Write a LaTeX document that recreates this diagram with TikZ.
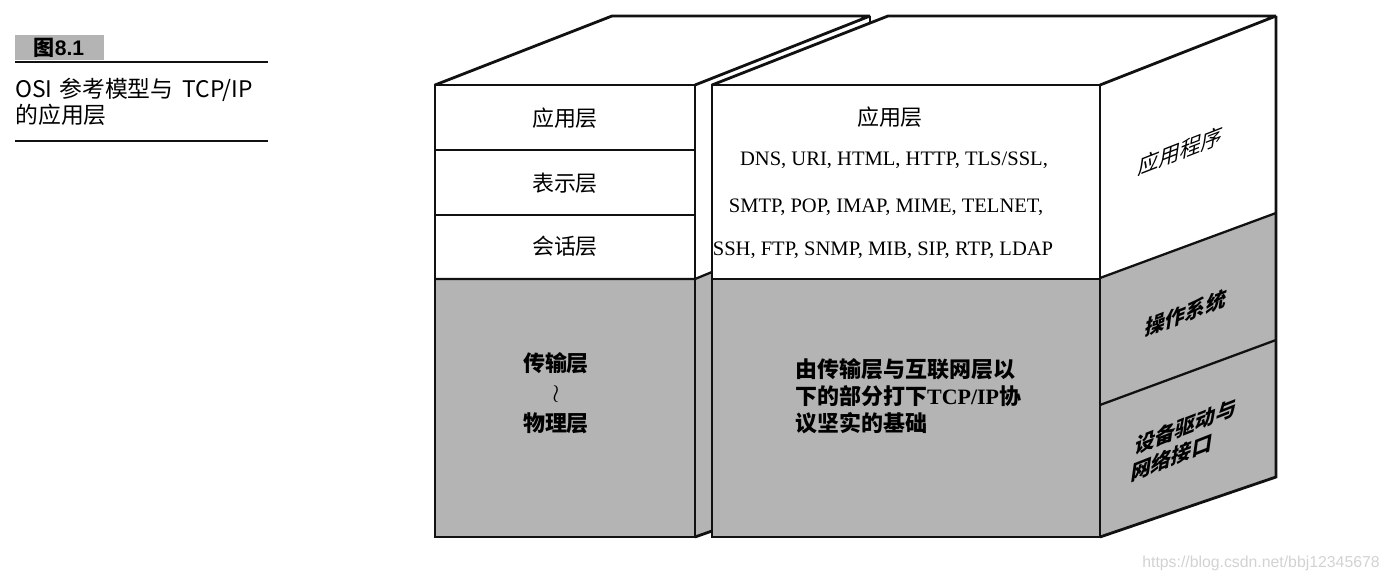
\documentclass[tikz,border=0pt]{standalone}
\usepackage{fontspec}
\setmainfont{Liberation Serif}
\setsansfont{Liberation Sans}
\newfontfamily\cjk{Noto Sans CJK SC}
\usepackage{xcolor}
\definecolor{cEdge}{HTML}{111111}
\definecolor{cShade}{HTML}{B4B4B4}
\definecolor{cMark}{HTML}{D2D2D2}
\usetikzlibrary{calc}
\tikzset{
  box-edge/.style={draw=cEdge,line width=1.6pt,line join=miter,miter limit=2},
  layer-line/.style={draw=cEdge,line width=1.3pt},
  layer-shade/.style={fill=cShade},
  cap-rule/.style={draw=cEdge,line width=1.1pt},
  cap-text/.style={inner sep=0pt,anchor=west,font=\cjk\fontsize{13}{15}\selectfont},
  lbl-layer/.style={inner sep=0pt,font=\cjk\fontsize{12.5}{15}\selectfont},
  lbl-low/.style={inner sep=0pt,font=\cjk\bfseries\fontsize{12.5}{15}\selectfont},
  lbl-proto/.style={inner sep=0pt,font=\fontsize{11.7}{14}\selectfont},
  lbl-base/.style={inner sep=0pt,align=left,anchor=north west,
    font=\cjk\bfseries\fontsize{12.5}{15.4}\selectfont},
  lbl-side/.style={inner sep=0pt,align=left,yslant=0.39,xslant=0.15,
    font=\cjk\fontsize{12}{14.5}\selectfont},
  lbl-side-low/.style={lbl-side,font=\cjk\bfseries\fontsize{11.5}{14.5}\selectfont},
  lbl-mark/.style={inner sep=0pt,text=cMark,font=\sffamily\fontsize{9}{11}\selectfont},
}

\begin{document}
\begin{tikzpicture}[x=0.02cm,y=-0.02cm]
  \useasboundingbox (0,0) rectangle (1389,581);

  % caption at the left
  \fill[cShade] (15,35) rectangle (104,60);
  \node[inner sep=0pt,font=\sffamily\bfseries\fontsize{12}{14}\selectfont] (tag) at (59,48) {{\cjk 图}8.1};
  \draw[cap-rule] (15,62) -- (268,62);
  \node[cap-text] (title-a) at (15,90) {OSI\hspace{0.3em}参考模型与\hspace{0.4em}TCP/IP};
  \node[cap-text] (title-b) at (15,115) {的应用层};
  \draw[cap-rule] (15,141) -- (268,141);

  % shaded lower layers
  \fill[layer-shade] (435,279) rectangle (695,537);
  \fill[layer-shade] (695,279) -- (712,272) -- (712,531) -- (695,537) -- cycle;
  \fill[layer-shade] (712,279) rectangle (1100,537);
  \fill[layer-shade] (1100,278) -- (1276,213) -- (1276,477) -- (1100,537) -- cycle;

  % OSI block
  \draw[box-edge] (435,85) rectangle (695,537);
  \draw[box-edge] (435,85) -- (612,16) -- (870,16) -- (695,85);
  \draw[box-edge] (870,16) -- (870,23);
  \draw[box-edge] (695,537) -- (712,531);
  \draw[layer-line] (435,150) -- (695,150);
  \draw[layer-line] (435,215) -- (695,215);
  \draw[layer-line] (435,279) -- (695,279) -- (712,272);

  % TCP/IP block
  \draw[box-edge] (712,85) rectangle (1100,537);
  \draw[box-edge] (712,85) -- (888,16) -- (1276,16) -- (1100,85);
  \draw[box-edge] (1276,16) -- (1276,477) -- (1100,537);
  \draw[layer-line] (712,279) -- (1100,279);
  \draw[layer-line] (1100,278) -- (1276,213);
  \draw[layer-line] (1100,405) -- (1276,340);

  % OSI labels
  \node[lbl-layer] (osi-app) at (565,118) {应用层};
  \node[lbl-layer] (osi-pre) at (565,183) {表示层};
  \node[lbl-layer] (osi-ses) at (565,246) {会话层};
  \node[lbl-low] (osi-tra) at (556,363) {传输层};
  \node[lbl-low,font=\fontsize{15}{15}\selectfont] (osi-wave) at (556,394) {$\wr$};
  \node[lbl-low] (osi-phy) at (556,423) {物理层};

  % TCP/IP labels
  \node[lbl-layer] (tcp-app) at (890,117) {应用层};
  \node[lbl-proto] (proto-a) at (894,160) {DNS, URI, HTML, HTTP, TLS/SSL,};
  \node[lbl-proto] (proto-b) at (886,207) {SMTP, POP, IMAP, MIME, TELNET,};
  \node[lbl-proto] (proto-c) at (883,250) {SSH, FTP, SNMP, MIB, SIP, RTP, LDAP};
  \node[lbl-base] (tcp-low) at (795,358)
    {由传输层与互联网层以\\下的部分打下{\rmfamily TCP/IP}协\\议坚实的基础};

  % side face
  \node[lbl-side] (side-app) at (1181,151) {应用程序};
  \node[lbl-side-low] (side-os) at (1186,313) {操作系统};
  \node[lbl-side-low] (side-dev) at (1184,440) {设备驱动与\\网络接口};

  \node[lbl-mark] (mark) at (1261,563) {https://blog.csdn.net/bbj12345678};
\end{tikzpicture}
\end{document}
